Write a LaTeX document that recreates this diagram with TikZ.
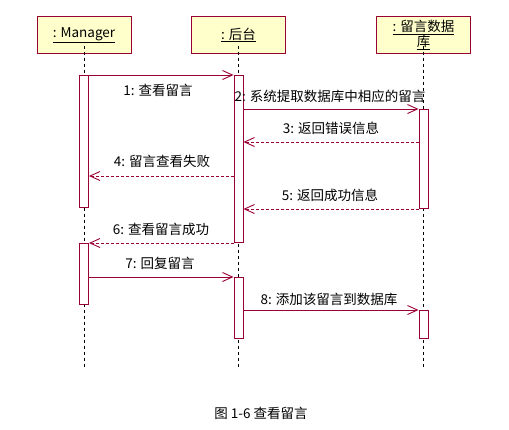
\documentclass[tikz,border=0pt]{standalone}
\usepackage{fontspec}
\setmainfont{Noto Sans CJK SC}
\usetikzlibrary{arrows.meta}
\definecolor{umlred}{RGB}{153,0,51}
\definecolor{umlfill}{RGB}{255,255,204}
\begin{document}
\begin{tikzpicture}[x=1pt,y=-1pt,
  font=\fontsize{13.5}{16}\selectfont,
  head/.style={draw=umlred, fill=umlfill, line width=0.9pt, minimum width=94pt, minimum height=37pt, inner sep=0pt, align=center, anchor=north},
  act/.style={draw=umlred, fill=white, line width=0.9pt, minimum width=9pt, inner sep=0pt, anchor=north},
  life/.style={black, line width=0.8pt, dash pattern=on 3pt off 3pt},
  msg/.style={umlred, line width=0.9pt, -{Straight Barb[length=10pt,width=9pt,line width=0.9pt]}},
  ret/.style={msg, dash pattern=on 3pt off 2pt},
  lbl/.style={inner sep=0pt, text=black}]
\useasboundingbox (0,0) rectangle (509,429);
% heads
\node[head] (m) at (84,16) {\underline{: Manager}};
\node[head] (b) at (238.5,16) {\underline{: 后台}};
\node[head, align=center, font=\fontsize{13.5}{16}\selectfont] (d) at (423.5,16) {\underline{: 留言数据}\\[-1pt]\underline{库}};
% lifeline ends
\coordinate (mend) at (84,368);
\coordinate (bend) at (238.5,368);
\coordinate (dend) at (423.5,368);
\draw[life] ([yshift=8pt]m.south) -- (mend);
\draw[life] ([yshift=8pt]b.south) -- (bend);
\draw[life] ([yshift=8pt]d.south) -- (dend);
% activations
\node[act, minimum height=132pt] (ma1) at (84,75) {};
\node[act, minimum height=61pt] (ma2) at (84,243) {};
\node[act, minimum height=167pt] (ba1) at (238.5,75) {};
\node[act, minimum height=61pt] (ba2) at (238.5,277) {};
\node[act, minimum height=99pt] (da1) at (423.5,109) {};
\node[act, minimum height=28pt] (da2) at (423.5,310) {};
% message rows
\coordinate (y3) at (0,142);
\coordinate (y4) at (0,176);
\coordinate (y5) at (0,209);
\coordinate (y6) at (0,243);
% messages
\draw[msg] (ma1.north east) -- (ba1.north west);
\node[lbl] (l1) at (158,90) {1: 查看留言};
\draw[msg] (ba1.east |- da1.north) -- (da1.north west);
\node[lbl] (l2) at (330,96) {2: 系统提取数据库中相应的留言};
\draw[ret] (da1.west |- y3) -- (ba1.east |- y3);
\node[lbl] (l3) at (331,128) {3: 返回错误信息};
\draw[ret] (ba1.west |- y4) -- (ma1.east |- y4);
\node[lbl] (l4) at (162,161) {4: 留言查看失败};
\draw[ret] (da1.west |- y5) -- (ba1.east |- y5);
\node[lbl] (l5) at (330,195) {5: 返回成功信息};
\draw[ret] (ba1.west |- y6) -- (ma2.north east);
\node[lbl] (l6) at (161,229.5) {6: 查看留言成功};
\draw[msg] (ma2.east |- ba2.north) -- (ba2.north west);
\node[lbl] (l7) at (160,263) {7: 回复留言};
\draw[msg] (ba2.east |- da2.north) -- (da2.north west);
\node[lbl] (l8) at (329,299) {8: 添加该留言到数据库};
% caption
\node[lbl] (cap) at (261,413) {图 1-6 查看留言};
\end{tikzpicture}
\end{document}
